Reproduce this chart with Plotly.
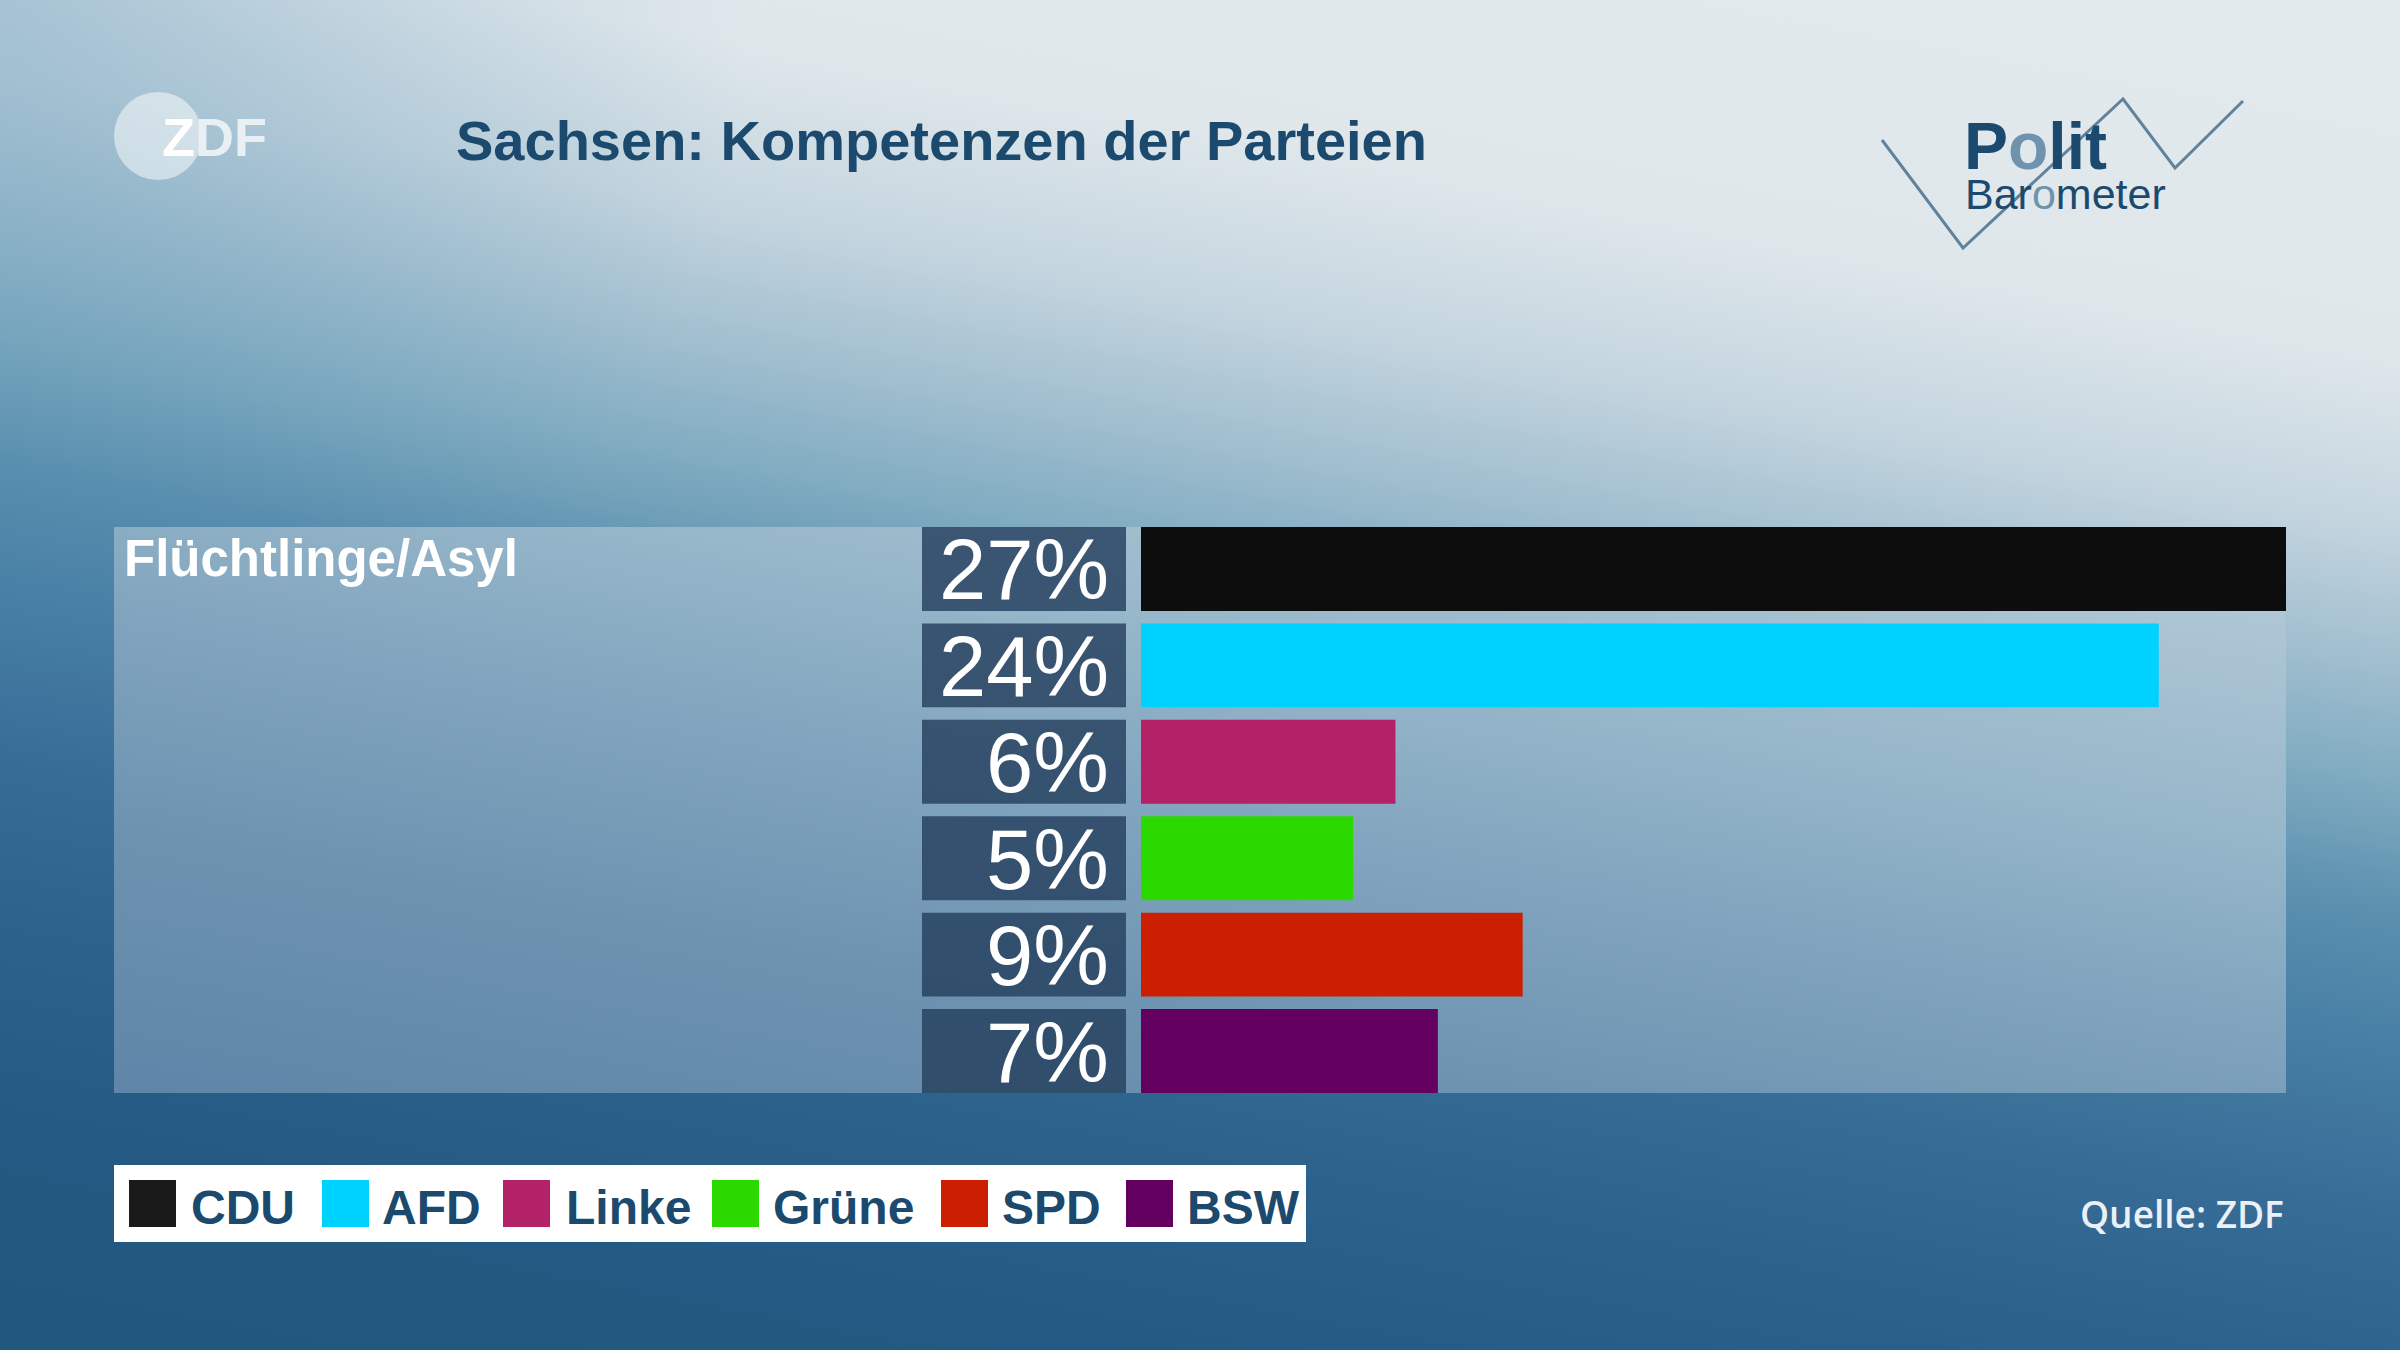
import base64
import plotly.graph_objects as go

# ---------------- data ----------------
parties = ["CDU", "AFD", "Linke", "Grüne", "SPD", "BSW"]
values = [27, 24, 6, 5, 9, 7]
bar_colors = ["#0d0d0d", "#00d2ff", "#b32166", "#2bd900", "#cc1e00", "#640060"]
swatch_colors = ["#1a1a1a", "#00d2ff", "#b32166", "#2bd900", "#cc1e00", "#640060"]
topic = "Flüchtlinge/Asyl"
title_text = "Sachsen: Kompetenzen der Parteien"
source_text = "Quelle: ZDF"

# ---------------- layout constants (pixels) ----------------
W, H = 2400, 1350
def X(px):
    return px / W
def Y(py):
    return 1 - py / H

DARK = "#1b4a6e"
FONT = "Liberation Sans, Arial, sans-serif"

# Panel geometry (pixels)
PX0, PX1, PY0, PY1 = 114, 2286, 527, 1093

# background gradient (diagonal) as SVG image
S0, S1 = -456.0, 1300.0
SPAN = S1 - S0
bg_stops = [(-460, "#e3eaee"), (-100, "#dfe7eb"), (71, "#c4d5df"), (180, "#a8c3d2"),
            (335, "#7eaac0"), (462, "#5a8fae"), (590, "#477fa5"), (762, "#376c96"),
            (920, "#2d628c"), (1110, "#245a83"), (1300, "#22587f")]
panel_stops = [(100, "#b8ccd8"), (400, "#97b7ca"), (600, "#80a4be"), (800, "#6e93b1"),
               (1060, "#5f86a8")]

def stop_xml(stops):
    return "".join(
        f'<stop offset="{max(0.0, min(1.0, (s - S0) / SPAN)):.4f}" stop-color="{c}"/>'
        for s, c in stops)

grad_attrs = 'gradientUnits="userSpaceOnUse" x1="2400" y1="0" x2="2078" y2="1695"'
svg = f'''<svg xmlns="http://www.w3.org/2000/svg" width="{W}" height="{H}" viewBox="0 0 {W} {H}" preserveAspectRatio="none">
<defs>
<linearGradient id="g" {grad_attrs}>{stop_xml(bg_stops)}</linearGradient>
<linearGradient id="p" {grad_attrs}>{stop_xml(panel_stops)}</linearGradient>
<radialGradient id="v" gradientUnits="userSpaceOnUse" cx="0" cy="0" r="750">
<stop offset="0" stop-color="#4f8cb0" stop-opacity="0.32"/>
<stop offset="1" stop-color="#4f8cb0" stop-opacity="0"/>
</radialGradient>
</defs>
<rect x="0" y="0" width="{W}" height="{H}" fill="url(#g)"/>
<rect x="0" y="0" width="{W}" height="{H}" fill="url(#v)"/>
<rect x="{PX0}" y="{PY0}" width="{PX1 - PX0}" height="{PY1 - PY0}" fill="url(#p)"/>
</svg>'''
bg_src = "data:image/svg+xml;base64," + base64.b64encode(svg.encode()).decode()

rows = list(range(len(parties)))
bar_w = 0.87
half = bar_w / 2

fig = go.Figure()
# label boxes
fig.add_trace(go.Bar(
    x=[1] * len(values), y=rows, orientation="h", xaxis="x2", yaxis="y",
    width=bar_w, marker=dict(color="rgba(36,64,94,0.82)", line=dict(width=0)),
    hoverinfo="skip", showlegend=False))
# value bars
fig.add_trace(go.Bar(
    x=values, y=rows, orientation="h", xaxis="x", yaxis="y",
    width=bar_w, marker=dict(color=bar_colors, line=dict(width=0)),
    hoverinfo="skip", showlegend=False))

annotations = []
# percent labels
for r, v in zip(rows, values):
    annotations.append(dict(
        xref="x2", yref="y", x=1, y=r, xanchor="right", yanchor="middle",
        xshift=-15, yshift=-1, text=f"{v}%", showarrow=False,
        font=dict(family=FONT, size=85, color="white")))

# topic label
annotations.append(dict(
    xref="paper", yref="paper", x=X(122), y=Y(558), xanchor="left", yanchor="middle",
    text=topic, showarrow=False,
    font=dict(family=FONT, size=51, color="white", weight="bold")))

# title
annotations.append(dict(
    xref="paper", yref="paper", x=X(454), y=Y(140), xanchor="left", yanchor="middle",
    text=title_text, showarrow=False,
    font=dict(family=FONT, size=56, color=DARK, weight="bold")))

# source
annotations.append(dict(
    xref="paper", yref="paper", x=X(2286), y=Y(1213), xanchor="right", yanchor="middle",
    text=source_text, showarrow=False,
    font=dict(family="Open Sans, sans-serif", size=37, color="#eaf0f6", weight=600)))

# ZDF logo text
annotations.append(dict(
    xref="paper", yref="paper", x=X(160), y=Y(137), xanchor="left", yanchor="middle",
    text='<span style="color:#ffffff">Z</span><span style="color:#e9f0f4">DF</span>',
    showarrow=False, font=dict(family=FONT, size=54, color="white", weight="bold")))

# Politbarometer logo
annotations.append(dict(
    xref="paper", yref="paper", x=X(1962), y=Y(146), xanchor="left", yanchor="middle",
    text='P<span style="color:#6f93ad">o</span>lit', showarrow=False,
    font=dict(family=FONT, size=66, color=DARK, weight="bold")))
annotations.append(dict(
    xref="paper", yref="paper", x=X(1963), y=Y(194), xanchor="left", yanchor="middle",
    text='Bar<span style="color:#6f93ad">o</span>meter', showarrow=False,
    font=dict(family=FONT, size=43, color=DARK)))

shapes = []
# ZDF circle
shapes.append(dict(type="circle", xref="paper", yref="paper", layer="below",
                   x0=X(114), x1=X(202), y0=Y(180), y1=Y(92),
                   fillcolor="rgba(255,255,255,0.5)", line=dict(width=0)))
# Politbarometer zigzag
pts = [(1882, 140), (1963, 248), (2123, 99), (2175, 168), (2243, 101)]
path = "M " + " L ".join(f"{X(a):.5f},{Y(b):.5f}" for a, b in pts)
shapes.append(dict(type="path", xref="paper", yref="paper", layer="above",
                   path=path, line=dict(color="#5f839d", width=3)))

# legend box
shapes.append(dict(type="rect", xref="paper", yref="paper", layer="above",
                   x0=X(114), x1=X(1306), y0=Y(1242), y1=Y(1165),
                   fillcolor="white", line=dict(width=0)))
sw_left = [129, 322, 503, 712, 941, 1126]
tx_left = [189, 380, 564, 771, 1000, 1185]
for p, c, sx, tx in zip(parties, swatch_colors, sw_left, tx_left):
    shapes.append(dict(type="rect", xref="paper", yref="paper", layer="above",
                       x0=X(sx), x1=X(sx + 47), y0=Y(1227), y1=Y(1180),
                       fillcolor=c, line=dict(width=0)))
    annotations.append(dict(
        xref="paper", yref="paper", x=X(tx), y=Y(1207), xanchor="left", yanchor="middle",
        text=p, showarrow=False,
        font=dict(family=FONT, size=48, color=DARK, weight="bold")))

fig.update_layout(
    width=W, height=H, margin=dict(l=0, r=0, t=0, b=0),
    paper_bgcolor="#275a80", plot_bgcolor="rgba(0,0,0,0)",
    xaxis=dict(domain=[X(1141), X(2286)], range=[0, max(values)], visible=False,
               anchor="y", fixedrange=True),
    xaxis2=dict(domain=[X(922), X(1126)], range=[0, 1], visible=False,
                anchor="y", fixedrange=True),
    yaxis=dict(domain=[Y(PY1), Y(PY0)], range=[len(rows) - 1 + half, -half],
               visible=False, fixedrange=True),
    images=[dict(source=bg_src, xref="paper", yref="paper", x=0, y=1,
                 sizex=1, sizey=1, sizing="stretch", layer="below",
                 xanchor="left", yanchor="top")],
    shapes=shapes, annotations=annotations, barmode="overlay",
    showlegend=False,
)

fig.write_html("out.html", config={"displayModeBar": False},
               post_script="document.body.style.margin='0px';document.body.style.overflow='hidden';")
